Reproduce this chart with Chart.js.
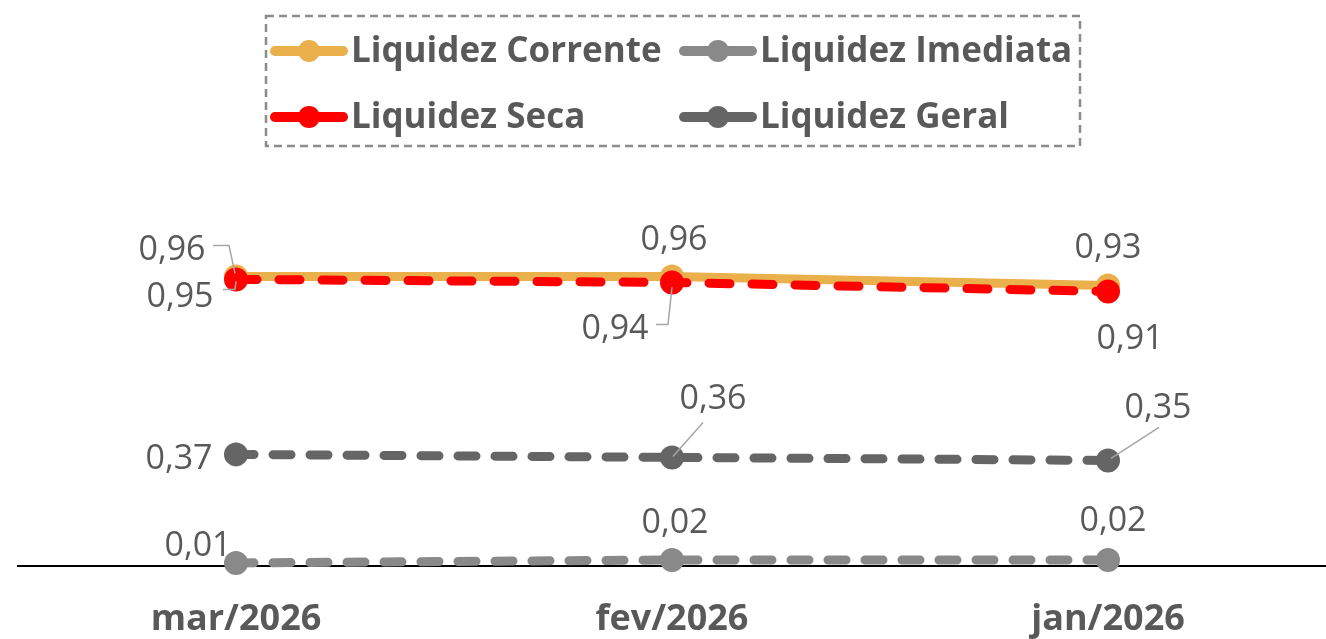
<!DOCTYPE html>
<html>
<head>
<meta charset="utf-8">
<script src="https://cdn.jsdelivr.net/npm/chart.js@4"></script>
<style>
  html, body { margin: 0; padding: 0; background: #fff; overflow: hidden; }
  canvas { display: block; }
</style>
</head>
<body>
<canvas id="lineChart" width="1326" height="639"></canvas>
<script>
// data
const months = ['mar/2026', 'fev/2026', 'jan/2026'];
const liqCorrente = [0.96, 0.96, 0.93];
const liqImediata = [0.01, 0.02, 0.02];
const liqSeca = [0.95, 0.94, 0.91];
const liqGeral = [0.37, 0.36, 0.35];

const textColor = '#595959';
const fontFamily = '"Open Sans", "Noto Sans", sans-serif';

// label offsets (px from the point) and optional leader lines
const labelPos = {
    'Liquidez Corrente': [
        { dx: -64, dy: -26, leader: [[-23, -31], [-7, -31], [-1, -3]] },
        { dx: 2, dy: -36 },
        { dx: 0, dy: -37 }
    ],
    'Liquidez Imediata': [
        { dx: -38, dy: -17 },
        { dx: 3, dy: -37 },
        { dx: 5, dy: -39 }
    ],
    'Liquidez Seca': [
        { dx: -56, dy: 18, leader: [[-13, 10], [-1, 10], [0, 2]] },
        { dx: -57, dy: 47, leader: [[-16, 42], [-4, 42], [0, 5]] },
        { dx: 22, dy: 48 }
    ],
    'Liquidez Geral': [
        { dx: -57, dy: 5 },
        { dx: 41, dy: -58, leader: [[31, -35], [1, -1]] },
        { dx: 50, dy: -52, leader: [[51, -33], [3, -2]] }
    ]
};

const dataLabels = {
    id: 'dataLabels',
    afterDatasetsDraw(chart) {
        const ctx = chart.ctx;
        ctx.save();
        chart.data.datasets.forEach((ds, di) => {
            const meta = chart.getDatasetMeta(di);
            const specs = labelPos[ds.label];
            meta.data.forEach((pt, i) => {
                const s = specs[i];
                if (s.leader) {
                    ctx.beginPath();
                    ctx.strokeStyle = '#A6A6A6';
                    ctx.lineWidth = 1.5;
                    s.leader.forEach((p, k) => {
                        if (k === 0) ctx.moveTo(pt.x + p[0], pt.y + p[1]);
                        else ctx.lineTo(pt.x + p[0], pt.y + p[1]);
                    });
                    ctx.stroke();
                }
                ctx.font = '34px ' + fontFamily;
                ctx.fillStyle = textColor;
                ctx.textAlign = 'center';
                ctx.textBaseline = 'middle';
                ctx.fillText(ds.data[i].toFixed(2).replace('.', ','), pt.x + s.dx, pt.y + s.dy);
            });
        });
        ctx.restore();
    }
};

// legend drawn as a 2x2 grid inside a dashed box
const boxLegend = {
    id: 'boxLegend',
    afterDraw(chart) {
        const ctx = chart.ctx;
        ctx.save();
        ctx.setLineDash([8, 5]);
        ctx.strokeStyle = '#8C8C8C';
        ctx.lineWidth = 2.5;
        ctx.strokeRect(266, 16, 814, 130);
        ctx.setLineDash([]);
        const cols = [271, 680];
        const rows = [51, 117];
        chart.data.datasets.forEach((ds, i) => {
            const x = cols[i % 2];
            const y = rows[Math.floor(i / 2)];
            ctx.strokeStyle = ds.borderColor;
            ctx.lineWidth = 10;
            ctx.lineCap = 'round';
            ctx.beginPath();
            ctx.moveTo(x + 4, y);
            ctx.lineTo(x + 72, y);
            ctx.stroke();
            ctx.fillStyle = ds.borderColor;
            ctx.beginPath();
            ctx.arc(x + 38, y, 11, 0, Math.PI * 2);
            ctx.fill();
            ctx.font = 'bold 35px ' + fontFamily;
            ctx.fillStyle = textColor;
            ctx.textAlign = 'left';
            ctx.textBaseline = 'middle';
            ctx.fillText(ds.label, x + 80, y + 1);
        });
        ctx.restore();
    }
};

function lineSet(label, data, color, dash, width, order) {
    return {
        label: label,
        data: data,
        borderColor: color,
        backgroundColor: color,
        borderWidth: width,
        borderDash: dash,
        borderCapStyle: 'round',
        pointRadius: 12,
        pointBorderWidth: 0,
        pointBackgroundColor: color,
        tension: 0,
        clip: false,
        order: order
    };
}

const ctx = document.getElementById('lineChart').getContext('2d');
const lineChart = new Chart(ctx, {
    type: 'line',
    data: {
        labels: months,
        datasets: [
            lineSet('Liquidez Corrente', liqCorrente, '#E9B04B', [], 9, 1),
            lineSet('Liquidez Imediata', liqImediata, '#898989', [18, 19], 9, 2),
            lineSet('Liquidez Seca', liqSeca, '#FF0000', [21, 22], 9, 0),
            lineSet('Liquidez Geral', liqGeral, '#656565', [18, 19], 9, 3)
        ]
    },
    options: {
        responsive: false,
        animation: false,
        layout: { autoPadding: false, padding: { top: 204, left: 18, right: 0, bottom: 0 } },
        plugins: {
            legend: { display: false },
            tooltip: { enabled: false }
        },
        scales: {
            x: {
                offset: true,
                grid: { display: false, drawTicks: false },
                border: { display: true, color: '#000000', width: 2 },
                ticks: {
                    padding: 32,
                    color: textColor,
                    font: { family: fontFamily, size: 36, weight: 'bold' },
                    maxRotation: 0
                },
                afterFit(scale) {
                    scale.height = 73;
                }
            },
            y: {
                display: false,
                min: 0,
                max: 1.2
            }
        }
    },
    plugins: [dataLabels, boxLegend]
});
</script>
</body>
</html>
